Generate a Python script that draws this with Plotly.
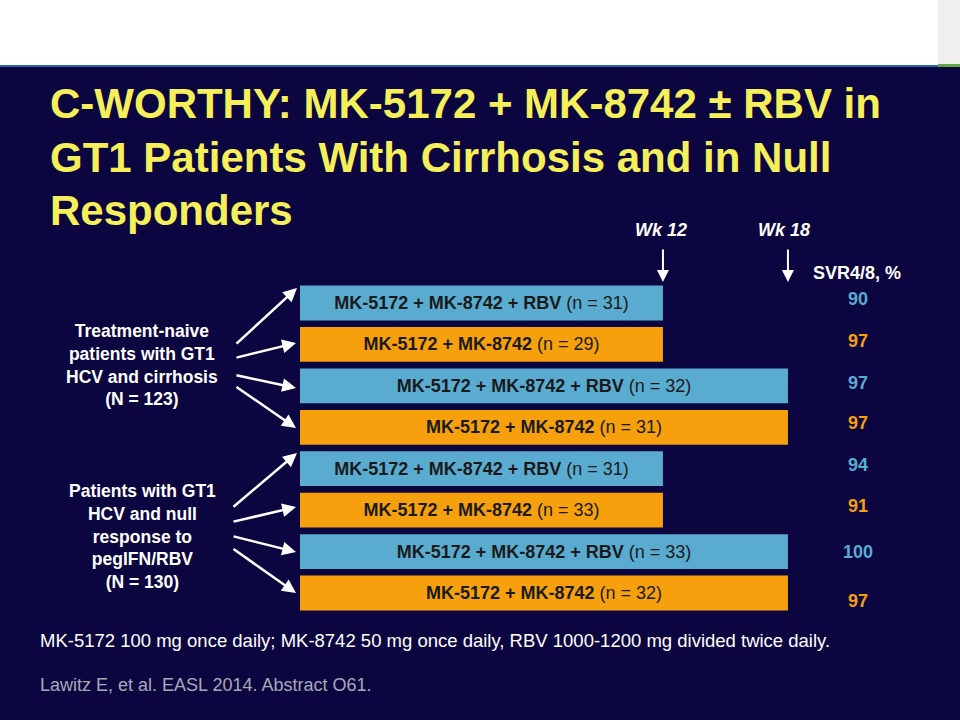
import plotly.graph_objects as go

regimens = ["MK-5172 + MK-8742 + RBV", "MK-5172 + MK-8742", "MK-5172 + MK-8742 + RBV", "MK-5172 + MK-8742",
            "MK-5172 + MK-8742 + RBV", "MK-5172 + MK-8742", "MK-5172 + MK-8742 + RBV", "MK-5172 + MK-8742"]
n_values = [31, 29, 32, 31, 31, 33, 33, 32]
weeks = [12, 12, 18, 18, 12, 12, 18, 18]
svr = [90, 97, 97, 97, 94, 91, 100, 97]
groups = ["Treatment-naive<br>patients with GT1<br>HCV and cirrhosis<br>(N = 123)",
          "Patients with GT1<br>HCV and null<br>response to<br>pegIFN/RBV<br>(N = 130)"]

FONT = "Liberation Sans, Arial, sans-serif"
BLUE, ORANGE = "#5aabd0", "#f5a00c"
colors = [BLUE if "RBV" in r else ORANGE for r in regimens]

X0PX, PXW = 413.0, 20.83
Y0PX, PXR = 303.0, 41.43
def wx(px): return (px - X0PX) / PXW
def ry(py): return (py - Y0PX) / PXR
start = wx(300)
rows = list(range(len(regimens)))

fig = go.Figure()
fig.add_trace(go.Bar(
    orientation="h", y=rows, x=[w - start for w in weeks], base=start, width=0.84,
    marker=dict(color=colors, line=dict(width=0)),
    text=[f"<b>{r}</b> (n = {n})" for r, n in zip(regimens, n_values)],
    textposition="inside", insidetextanchor="middle", constraintext="none",
    textfont=dict(family=FONT, size=18, color="#1a1a1a"), hoverinfo="skip"))

ann = []
offs = [-4, -3, -3, -4, -4, -4, 0, 8]
for i, v in enumerate(svr):
    ann.append(dict(x=wx(858), y=i, text=f"<b>{v}</b>", showarrow=False, yshift=-offs[i],
                    font=dict(family=FONT, size=18, color=colors[i])))
ann.append(dict(x=wx(857), y=ry(273), text="<b>SVR4/8, %</b>", showarrow=False,
                font=dict(family=FONT, size=18, color="white")))
for w in (12, 18):
    ann.append(dict(x=w, y=ry(230), text=f"<b><i>Wk {w}</i></b>", showarrow=False,
                    xshift=-2 if w == 12 else -4, font=dict(family=FONT, size=18, color="white")))
    ann.append(dict(x=w, y=ry(282), ax=w, ay=ry(248), xref="x", yref="y", axref="x", ayref="y",
                    showarrow=True, arrowhead=2, arrowsize=1.2, arrowwidth=2, arrowcolor="white", text=""))
ann.append(dict(x=wx(142), y=ry(365), text="<b>" + groups[0] + "</b>", showarrow=False,
                font=dict(family=FONT, size=17.5, color="white")))
ann.append(dict(x=wx(142), y=ry(536), text="<b>" + groups[1] + "</b>", showarrow=False,
                font=dict(family=FONT, size=17.5, color="white")))
arrows = [((235, 345), (297, 288)), ((235, 358), (296, 343)), ((235, 375), (296, 388)), ((235, 386), (296, 428)),
          ((232, 508), (297, 453)), ((232, 522), (296, 507)), ((232, 536), (296, 552)), ((232, 548), (296, 593))]
for (sx, sy), (tx, ty) in arrows:
    ann.append(dict(x=wx(tx), y=ry(ty), ax=wx(sx), ay=ry(sy), axref="x", ayref="y", showarrow=True,
                    arrowhead=2, arrowsize=1.1, arrowwidth=2.5, arrowcolor="white", text=""))

title_lines = ["C-WORTHY: MK-5172 + MK-8742 ± RBV in", "GT1 Patients With Cirrhosis and in Null", "Responders"]
for k, t in enumerate(title_lines):
    ann.append(dict(xref="paper", yref="paper", x=48/960, y=1 - (104 + 53*k)/720, xanchor="left", yanchor="middle",
                    text=f"<b>{t}</b>", showarrow=False, font=dict(family=FONT, size=42, color="#f5f05a")))
ann.append(dict(xref="paper", yref="paper", x=38/960, y=1 - 640/720, xanchor="left", yanchor="middle", showarrow=False,
                text="MK-5172 100 mg once daily; MK-8742 50 mg once daily, RBV 1000-1200 mg divided twice daily.",
                font=dict(family=FONT, size=18.5, color="white")))
ann.append(dict(xref="paper", yref="paper", x=38/960, y=1 - 685/720, xanchor="left", yanchor="middle", showarrow=False,
                text="Lawitz E, et al. EASL 2014. Abstract O61.",
                font=dict(family=FONT, size=18, color="#a8a8b8")))

shapes = [
    dict(type="rect", xref="paper", yref="paper", x0=0, x1=1, y0=1 - 65/720, y1=1, fillcolor="white", line_width=0, layer="below"),
    dict(type="rect", xref="paper", yref="paper", x0=938/960, x1=1, y0=1 - 65/720, y1=1, fillcolor="#efefef", line_width=0, layer="below"),
    dict(type="rect", xref="paper", yref="paper", x0=0, x1=1, y0=1 - 67/720, y1=1 - 65/720, fillcolor="#2a62a8", line_width=0),
    dict(type="rect", xref="paper", yref="paper", x0=938/960, x1=1, y0=1 - 67/720, y1=1 - 64/720, fillcolor="#5aa848", line_width=0),
]

fig.update_layout(
    width=960, height=720, margin=dict(l=0, r=0, t=0, b=0),
    paper_bgcolor="#0c0640", plot_bgcolor="rgba(0,0,0,0)", showlegend=False,
    uniformtext=dict(mode=False),
    xaxis=dict(range=[wx(0), wx(960)], visible=False, fixedrange=True),
    yaxis=dict(range=[ry(720), ry(0)], visible=False, fixedrange=True),
    annotations=ann, shapes=shapes)
fig.write_html("out.html", config={"displayModeBar": False})

with open("out.html", encoding="utf-8") as f:
    html = f.read()
html = html.replace("<head>", "<head><style>html,body{margin:0;padding:0;overflow:hidden;background:#0c0640}</style>", 1)
with open("out.html", "w", encoding="utf-8") as f:
    f.write(html)
